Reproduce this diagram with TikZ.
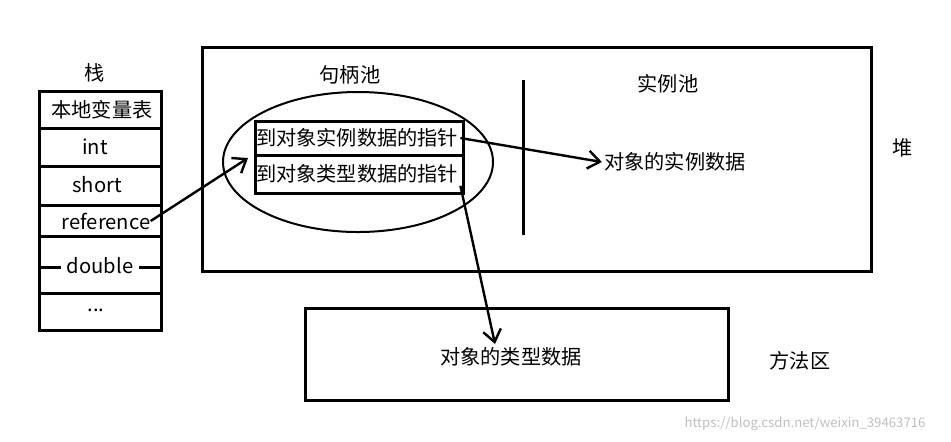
\documentclass[tikz,border=0pt]{standalone}
\usepackage{fontspec}
\setmainfont{Noto Sans CJK SC}
\usetikzlibrary{shapes.geometric,arrows.meta}
\begin{document}
\begin{tikzpicture}[x=0.5pt,y=-0.5pt,
  box/.style = {draw, line width=1.5pt},
  lbl/.style = {font=\fontsize{10.1}{12}\selectfont, inner sep=1pt},
  ptr/.style = {line width=1.2pt, -{Straight Barb[length=6pt,width=9pt,line width=1.2pt]}}]
\useasboundingbox (0,0) rectangle (951,441);
% stack
\node[lbl] (stk) at (95,73) {栈};
\draw[box] (39,91) rectangle (161,330);
\foreach \y in {128,166,205,236,293}
  \draw[box] (39,\y) -- (161,\y);
\draw[box] (39,267) -- (161,267);
\node[lbl] (vars) at (102,110) {本地变量表};
\node[lbl] (int) at (95,147) {int};
\node[lbl] (short) at (97,185) {short};
\node[lbl, inner sep=0pt] (ref) at (106,221) {reference};
\node[lbl, fill=white, inner xsep=3pt] (dbl) at (100,266) {double};
\node[lbl] (dots) at (96,310) {...};
% heap
\draw[box] (202,47) rectangle (871,271);
\node[lbl] (heap) at (903,148) {堆};
\node[lbl] (hpool) at (350,75) {句柄池};
\node[lbl] (ipool) at (668,84) {实例池};
\draw[box] (523,80) -- (523,235);
\node[draw, ellipse, line width=1pt, minimum width=135pt, minimum height=70pt] (pool) at (358,162) {};
\draw[box] (255,121) rectangle (463,193);
\draw[box] (255,155) -- (463,155);
\node[lbl] (ptrA) at (357,138) {到对象实例数据的指针};
\node[lbl] (ptrB) at (357,174) {到对象类型数据的指针};
\node[lbl] (idata) at (675,162) {对象的实例数据};
% method area
\draw[box] (305,308) rectangle (728,400);
\node[lbl] (tdata) at (511,357) {对象的类型数据};
\node[lbl] (marea) at (800,361) {方法区};
\node[font=\fontsize{6.6}{8}\selectfont, text=black!25, inner sep=0pt] (wm) at (805,424) {https://blog.csdn.net/weixin\_39463716};
% connectors
\coordinate (hin) at (248,158);
\coordinate (tin) at (495,344);
\draw[ptr] (ref.east) -- (hin);
\draw[ptr] (ptrA.east) -- (idata.west);
\draw[ptr] (ptrB.south east) -- (tin);
\end{tikzpicture}
\end{document}
